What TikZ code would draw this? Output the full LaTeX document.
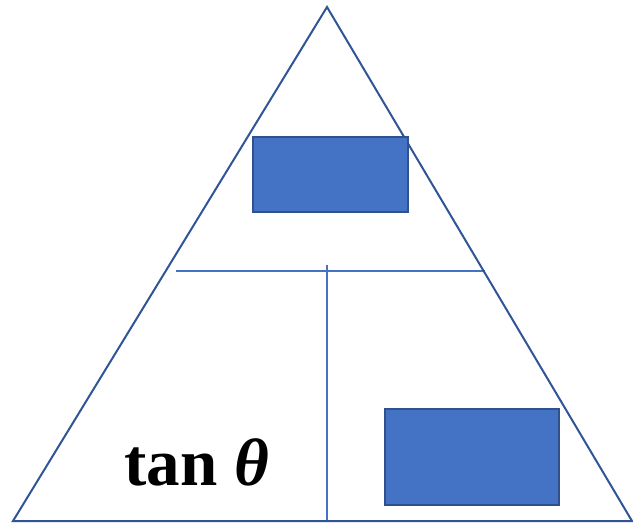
\documentclass[tikz,border=0pt]{standalone}
\usepackage{fontspec}
\setmainfont{Liberation Serif}
\definecolor{triline}{HTML}{2F5597}
\definecolor{boxfill}{HTML}{4472C4}
\definecolor{boxline}{HTML}{2F528F}
\tikzset{
  triedge/.style={draw=triline, line width=2pt, line join=miter},
  splitline/.style={draw=boxfill, line width=1.2pt},
  bluebox/.style={draw=boxline, fill=boxfill, line width=2pt, inner sep=0pt, anchor=north west},
  tanlabel/.style={font=\fontsize{67}{67}\selectfont\bfseries, inner sep=0pt, anchor=base west}
}
\begin{document}
\begin{tikzpicture}[x=1pt, y=-1pt]
  \useasboundingbox (0,0) rectangle (633,523);
  \coordinate (apex) at (327,7);
  \coordinate (bl) at (13,521);
  \coordinate (br) at (632,521);
  \coordinate (hl) at (176,271);
  \coordinate (hr) at (485,271);
  \coordinate (vt) at (327,265);
  \coordinate (vb) at (327,521);
  \draw[splitline] (hl) -- (hr);
  \draw[splitline] (vt) -- (vb);
  \draw[triedge] (apex) -- (bl) -- (br) -- cycle;
  \node[bluebox, minimum width=155pt, minimum height=75pt] (topbox) at (252,136) {};
  \node[bluebox, minimum width=174pt, minimum height=96pt] (rightbox) at (384,408) {};
  \node[tanlabel] (tan) at (124,485) {tan \textit{θ}};
\end{tikzpicture}
\end{document}
